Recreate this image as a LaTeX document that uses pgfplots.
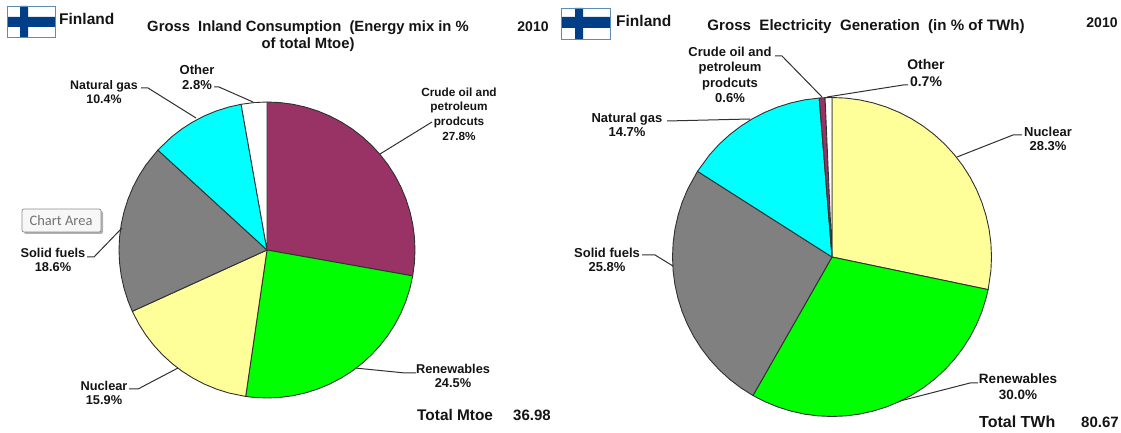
\documentclass[border=0pt]{standalone}
\usepackage{fontspec}
\setmainfont{Liberation Sans}
\newfontfamily\tipfont{Carlito}
\usepackage{pgfplots}
\pgfplotsset{compat=1.18}
\usepgfplotslibrary{polar}
\definecolor{oilc}{HTML}{993366}
\definecolor{renc}{HTML}{00FF00}
\definecolor{nucc}{HTML}{FFFF99}
\definecolor{solc}{HTML}{808080}
\definecolor{gasc}{HTML}{00FFFF}
\definecolor{flagblue}{HTML}{003F87}
\definecolor{flagedge}{HTML}{5B8DB8}
\definecolor{edge}{HTML}{303030}
\definecolor{ink}{HTML}{141414}
\pgfplotsset{pie/.style={hide axis,scale only axis,clip=false,xmin=0,xmax=360,ymin=0,ymax=1,anchor=origin},
  w/.style={draw=edge,line width=0.9pt,line join=round}}
\newcommand{\lab}[1]{\fontsize{#1}{14.6}\selectfont\bfseries}
\begin{document}
\begin{tikzpicture}
\path[use as bounding box] (0,0) rectangle (1121pt,433pt);
% left pie: 27.8 24.5 15.9 18.6 10.4 2.8 percent, clockwise from the top (angles in degrees)
\begin{polaraxis}[pie,width=296pt,height=296pt,at={(267pt,183pt)}]
\addplot[w,fill=oilc] coordinates {(0,0) (90,1) (85,1) (80,1) (75,1) (70,1) (65,1) (60,1) (55,1) (50,1) (45,1) (40,1) (35,1) (30,1) (25,1) (20,1) (15,1) (10,1) (5,1) (0,1) (355,1) (349.92,1)} -- cycle;
\addplot[w,fill=renc] coordinates {(0,0) (349.92,1) (345,1) (340,1) (335,1) (330,1) (325,1) (320,1) (315,1) (310,1) (305,1) (300,1) (295,1) (290,1) (285,1) (280,1) (275,1) (270,1) (265,1) (261.72,1)} -- cycle;
\addplot[w,fill=nucc] coordinates {(0,0) (261.72,1) (255,1) (250,1) (245,1) (240,1) (235,1) (230,1) (225,1) (220,1) (215,1) (210,1) (204.48,1)} -- cycle;
\addplot[w,fill=solc] coordinates {(0,0) (204.48,1) (200,1) (195,1) (190,1) (185,1) (180,1) (175,1) (170,1) (165,1) (160,1) (155,1) (150,1) (145,1) (137.52,1)} -- cycle;
\addplot[w,fill=gasc] coordinates {(0,0) (137.52,1) (130,1) (125,1) (120,1) (115,1) (110,1) (105,1) (100.08,1)} -- cycle;
\addplot[w,fill=white] coordinates {(0,0) (100.08,1) (95,1) (90,1)} -- cycle;
\end{polaraxis}
% right pie: 28.3 30.0 25.8 14.7 0.6 0.7 percent
\begin{polaraxis}[pie,width=319pt,height=319pt,at={(832pt,176pt)}]
\addplot[w,fill=nucc] coordinates {(0,0) (90,1) (85,1) (80,1) (75,1) (70,1) (65,1) (60,1) (55,1) (50,1) (45,1) (40,1) (35,1) (30,1) (25,1) (20,1) (15,1) (10,1) (5,1) (0,1) (355,1) (348.2,1)} -- cycle;
\addplot[w,fill=renc] coordinates {(0,0) (348.2,1) (345,1) (340,1) (335,1) (330,1) (325,1) (320,1) (315,1) (310,1) (305,1) (300,1) (295,1) (290,1) (285,1) (280,1) (275,1) (270,1) (265,1) (260,1) (255,1) (250,1) (245,1) (240.3,1)} -- cycle;
\addplot[w,fill=solc] coordinates {(0,0) (240.3,1) (235,1) (230,1) (225,1) (220,1) (215,1) (210,1) (205,1) (200,1) (195,1) (190,1) (185,1) (180,1) (175,1) (170,1) (165,1) (160,1) (155,1) (147.5,1)} -- cycle;
\addplot[w,fill=gasc] coordinates {(0,0) (147.5,1) (140,1) (135,1) (130,1) (125,1) (120,1) (115,1) (110,1) (105,1) (100,1) (94.6,1)} -- cycle;
\addplot[w,fill=oilc] coordinates {(0,0) (94.6,1) (92.5,1)} -- cycle;
\addplot[w,fill=white] coordinates {(0,0) (92.5,1) (90,1)} -- cycle;
\end{polaraxis}
\begin{scope}[x=1pt,y=-1pt,yshift=433pt,text=ink,inner sep=0pt]
% flags
\fill[white] (7,6) rectangle (55,37);
\fill[flagblue] (20,6) rectangle (28,37) (7,17) rectangle (55,27);
\draw[flagedge,line width=0.9pt] (7,6) rectangle (55,37);
\fill[white] (561,8) rectangle (610,39);
\fill[flagblue] (575,8) rectangle (583,39) (561,17) rectangle (610,28);
\draw[flagedge,line width=0.9pt] (561,8) rectangle (610,39);
% headers
\node[font=\lab{15.5},anchor=west] at (59,19) {Finland};
\node[font=\lab{15.5},anchor=west] at (616,21) {Finland};
\node[font=\fontsize{14.8}{17}\selectfont\bfseries,align=center] at (308,36) {Gross\ \ Inland Consumption\ \ (Energy mix in \%\\of total Mtoe)};
\node[font=\lab{15.1}] at (866,26.5) {Gross\ \ Electricity\ \ Generation\ \ (in \% of TWh)};
\node[font=\lab{14}] at (533,27) {2010};
\node[font=\lab{14}] at (1102,23) {2010};
\node[font=\lab{15.4},anchor=west] at (417,415) {Total Mtoe};
\node[font=\lab{15},anchor=west] at (513,415) {36.98};
\node[font=\lab{16},anchor=west] at (979,422) {Total TWh};
\node[font=\lab{15},anchor=west] at (1081,422) {80.67};
% left pie leaders and labels
\draw[edge,line width=1pt] (380,154) -- (432,122);
\draw[edge,line width=1pt] (355,368) -- (405,373) -- (416,373);
\draw[edge,line width=1pt] (178,368) -- (138,389) -- (129,389);
\draw[edge,line width=1pt] (122,228) -- (94,257) -- (87,257);
\draw[edge,line width=1pt] (196,118) -- (148,88) -- (141,88);
\draw[edge,line width=1pt] (253,102) -- (219,87) -- (214,87);
\node[font=\lab{11.8},align=center] at (459,114) {Crude oil and\\petroleum\\prodcuts\\27.8\%};
\node[font=\lab{12.8},align=center] at (453,376) {Renewables\\24.5\%};
\node[font=\lab{12.8},align=center] at (104,393) {Nuclear\\15.9\%};
\node[font=\lab{12.8},align=center] at (53,260) {Solid fuels\\18.6\%};
\node[font=\lab{12.4},align=center] at (104,92) {Natural gas\\10.4\%};
\node[font=\lab{13},align=center] at (197,77.5) {Other\\2.8\%};
% right pie leaders and labels
\draw[edge,line width=1pt] (775,56) -- (782,56) -- (822,97);
\draw[edge,line width=1pt] (827,97) -- (903,85) -- (908,85);
\draw[edge,line width=1pt] (667,121) -- (750,119);
\draw[edge,line width=1pt] (957,157) -- (1013,135) -- (1022,135);
\draw[edge,line width=1pt] (900,401) -- (970,383) -- (978,383);
\draw[edge,line width=1pt] (642,255) -- (655,255) -- (673,266);
\node[font=\fontsize{13}{15.3}\selectfont\bfseries,align=center] at (730,75) {Crude oil and\\petroleum\\prodcuts\\0.6\%};
\node[font=\fontsize{14}{17}\selectfont\bfseries,align=center] at (926,73) {Other\\0.7\%};
\node[font=\lab{13},align=center] at (627,125) {Natural gas\\14.7\%};
\node[font=\lab{13},align=center] at (1048,139) {Nuclear\\28.3\%};
\node[font=\fontsize{13.5}{16}\selectfont\bfseries,align=center] at (1018,387) {Renewables\\30.0\%};
\node[font=\lab{13},align=center] at (607,260) {Solid fuels\\25.8\%};
% hover tip left in the screenshot
\fill[black!30,rounded corners=2pt] (24,211) rectangle (103,234);
\draw[black!45,fill=black!3,rounded corners=2pt,line width=0.7pt] (22,209) rectangle (101,232);
\node[font=\tipfont\fontsize{14.5}{16}\selectfont,text=black!55] at (61,221) {Chart Area};
\end{scope}
\end{tikzpicture}
\end{document}
